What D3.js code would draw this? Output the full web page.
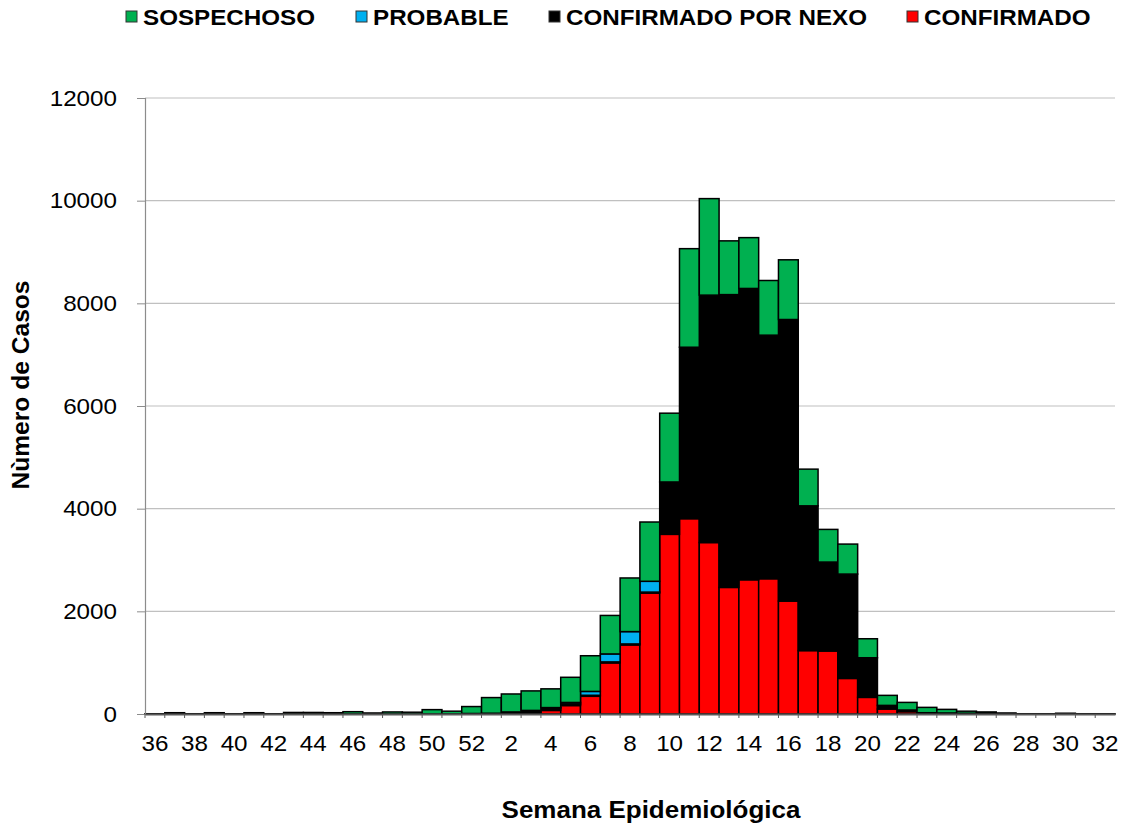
<!DOCTYPE html>
<html>
<head>
<meta charset="utf-8">
<script src="https://cdn.jsdelivr.net/npm/d3@7"></script>
<style>
	body { margin: 0; background: #fff; }
	svg { font-family: "Liberation Sans", Arial, sans-serif; }
</style>
</head>
<body>
<svg id="chart" width="1127" height="829"></svg>
<script>
// semanas epidemiológicas (36 a 52 y luego 1 a 32)
var weeks = [36, 37, 38, 39, 40, 41, 42, 43, 44, 45, 46, 47, 48, 49, 50, 51, 52,
	1, 2, 3, 4, 5, 6, 7, 8, 9, 10, 11, 12, 13, 14, 15, 16, 17, 18, 19, 20,
	21, 22, 23, 24, 25, 26, 27, 28, 29, 30, 31, 32];

var confirmado = [0, 0, 0, 0, 0, 0, 0, 0, 0, 0, 0, 0, 0, 0, 0, 0, 5,
	5, 15, 25, 70, 165, 345, 995, 1345, 2355, 3500, 3805, 3340, 2466, 2615, 2635, 2200, 1235, 1227, 693, 324,
	97, 45, 10, 5, 5, 0, 0, 0, 0, 0, 0, 0];

var nexo = [0, 0, 0, 0, 0, 0, 0, 0, 0, 0, 0, 0, 0, 0, 0, 0, 5,
	10, 25, 45, 50, 30, 20, 20, 20, 20, 1020, 3340, 4820, 5704, 5675, 4745, 5485, 2820, 1733, 2033, 772,
	71, 33, 15, 15, 10, 10, 5, 0, 0, 0, 0, 0];

var probable = [0, 0, 0, 0, 0, 0, 0, 0, 0, 0, 0, 0, 0, 0, 0, 0, 0,
	0, 0, 0, 5, 30, 75, 155, 240, 210, 0, 0, 0, 0, 0, 0, 0, 0, 0, 0, 0,
	0, 0, 0, 0, 0, 0, 0, 0, 0, 0, 0, 0];

var sospechoso = [5, 25, 5, 25, 5, 25, 5, 30, 30, 25, 45, 20, 40, 35, 85, 55, 135,
	305, 350, 380, 365, 490, 695, 750, 1045, 1155, 1340, 1920, 1880, 1047, 990, 1065, 1163, 715, 636, 584, 370,
	195, 148, 104, 70, 40, 30, 15, 5, 5, 15, 5, 5];

var yTicks = [0, 2000, 4000, 6000, 8000, 10000, 12000];
var xTickLabels = [36, 38, 40, 42, 44, 46, 48, 50, 52, 2, 4, 6, 8, 10, 12, 14, 16, 18, 20, 22, 24, 26, 28, 30, 32];

var seriesNames = ["CONFIRMADO", "CONFIRMADO POR NEXO", "PROBABLE", "SOSPECHOSO"];
var colours = {
	"CONFIRMADO": "#ff0000",
	"CONFIRMADO POR NEXO": "#000000",
	"PROBABLE": "#00b0f0",
	"SOSPECHOSO": "#00b050"
};

// el original está algo estirado en horizontal
var stretch = "scale(1.1,1)";

var margin = { left: 145, top: 98, right: 12, bottom: 115 };
var width = 1127 - margin.left - margin.right;
var height = 829 - margin.top - margin.bottom;

var rows = weeks.map(function(w, i) {
	return {
		key: i,
		week: w,
		"CONFIRMADO": confirmado[i],
		"CONFIRMADO POR NEXO": nexo[i],
		"PROBABLE": probable[i],
		"SOSPECHOSO": sospechoso[i]
	};
});

var svg = d3.select("#chart");
var g = svg.append("g")
	.attr("transform", "translate(" + margin.left + "," + margin.top + ")");

var x = d3.scaleBand()
	.domain(rows.map(function(d) { return d.key; }))
	.range([0, width])
	.padding(0);

var y = d3.scaleLinear()
	.domain([0, 12000])
	.range([height, 0]);

// rejilla horizontal
g.append("g").selectAll(".grid")
	.data(yTicks.slice(1))
	.enter().append("line")
	.attr("class", "grid")
	.attr("x1", 0)
	.attr("x2", width)
	.attr("y1", function(d) { return y(d); })
	.attr("y2", function(d) { return y(d); })
	.attr("stroke", "#c0c0c0")
	.attr("stroke-width", 1.2);

var stack = d3.stack().keys(seriesNames);
var layers = stack(rows);

g.append("g").selectAll(".layer")
	.data(layers)
	.enter().append("g")
	.attr("class", "layer")
	.attr("fill", function(d) { return colours[d.key]; })
	.selectAll("rect")
	.data(function(d) { return d.filter(function(p) { return p[1] - p[0] > 0; }); })
	.enter().append("rect")
	.attr("x", function(d) { return x(d.data.key); })
	.attr("width", x.bandwidth())
	.attr("y", function(d) { return y(d[1]); })
	.attr("height", function(d) { return y(d[0]) - y(d[1]); })
	.attr("stroke", "#000")
	.attr("stroke-width", 1.5);

// eje Y
var yAxis = d3.axisLeft(y)
	.tickValues(yTicks)
	.tickFormat(d3.format("d"))
	.tickSize(8)
	.tickPadding(17.5);

var yG = g.append("g").call(yAxis);
yG.select(".domain").attr("stroke", "#8c8c8c").attr("stroke-width", 1.2);
yG.selectAll(".tick line").attr("stroke", "#8c8c8c");
yG.selectAll(".tick text")
	.attr("font-size", 22)
	.attr("fill", "#000")
	.attr("font-family", "Liberation Sans, Arial, sans-serif")
	.attr("transform", stretch);

// eje X
var xAxis = d3.axisBottom(x)
	.tickSize(0)
	.tickPadding(21)
	.tickFormat(function(k) {
		var w = weeks[k];
		return xTickLabels.indexOf(w) >= 0 ? w : "";
	});

var xG = g.append("g")
	.attr("transform", "translate(0," + height + ")")
	.call(xAxis);
xG.select(".domain").attr("stroke", "#595959").attr("stroke-width", 2);
xG.selectAll(".tick text")
	.attr("font-size", 22)
	.attr("fill", "#000")
	.attr("font-family", "Liberation Sans, Arial, sans-serif")
	.attr("transform", stretch);

// marcas pequeñas entre barras
xG.append("g").selectAll(".sep")
	.data(rows)
	.enter().append("line")
	.attr("x1", function(d) { return x(d.key); })
	.attr("x2", function(d) { return x(d.key); })
	.attr("y1", 0)
	.attr("y2", 4)
	.attr("stroke", "#595959");

// títulos de ejes
svg.append("g")
	.attr("transform", "translate(651,818) " + "scale(1.13,1)")
	.append("text")
	.attr("text-anchor", "middle")
	.attr("font-size", 23)
	.attr("font-weight", "bold")
	.text("Semana Epidemiológica");

svg.append("g")
	.attr("transform", "translate(29,385) rotate(-90) scale(1.07,1)")
	.append("text")
	.attr("text-anchor", "middle")
	.attr("font-size", 23)
	.attr("font-weight", "bold")
	.text("Nùmero de Casos");

// leyenda
var legendItems = ["SOSPECHOSO", "PROBABLE", "CONFIRMADO POR NEXO", "CONFIRMADO"];
var legendX = [126, 356, 549, 907];

var legend = svg.append("g").selectAll(".legend")
	.data(legendItems)
	.enter().append("g")
	.attr("class", "legend")
	.attr("transform", function(d, i) { return "translate(" + legendX[i] + ",11)"; });

legend.append("rect")
	.attr("width", 11)
	.attr("height", 11)
	.attr("fill", function(d) { return colours[d]; })
	.attr("stroke", "#333")
	.attr("stroke-width", 1);

legend.append("g")
	.attr("transform", "translate(17,14) " + stretch)
	.append("text")
	.attr("font-size", 22)
	.attr("font-weight", "bold")
	.text(function(d) { return d; });
</script>
</body>
</html>
